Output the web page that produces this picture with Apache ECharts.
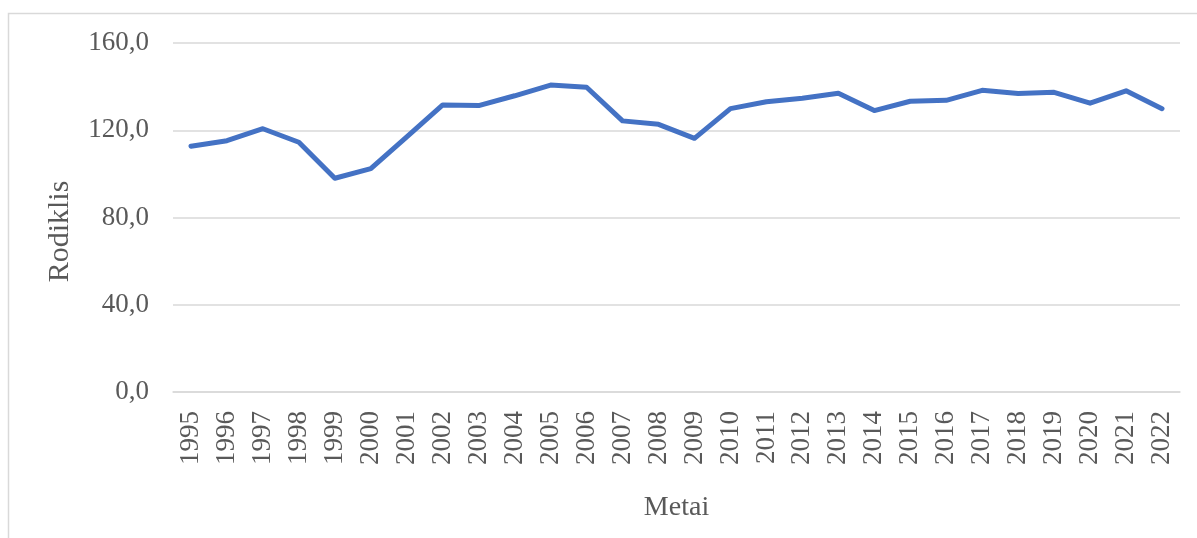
<!DOCTYPE html>
<html>
<head>
<meta charset="utf-8">
<script src="https://cdn.jsdelivr.net/npm/echarts@6/dist/echarts.min.js"></script>
<style>
  html, body { margin: 0; padding: 0; background: #ffffff; }
  #chart { width: 1197px; height: 538px; }
</style>
</head>
<body>
<div id="chart"></div>
<script>
// Years on the category axis
const years = ['1995','1996','1997','1998','1999','2000','2001','2002','2003','2004',
  '2005','2006','2007','2008','2009','2010','2011','2012','2013','2014',
  '2015','2016','2017','2018','2019','2020','2021','2022'];

// Indicator values per year
const rodiklis = [112.7, 115.2, 120.7, 114.5, 98.0, 102.4, 117.0, 131.6, 131.3, 135.8,
  140.7, 139.7, 124.3, 122.7, 116.3, 129.9, 133.1, 134.7, 137.0, 129.0,
  133.3, 133.7, 138.3, 136.9, 137.4, 132.4, 138.1, 129.9];

// Value axis range and step
const yMin = 0, yMax = 160, yStep = 40;

const textColor = '#595959';
const serif = '"Liberation Serif", "Times New Roman", serif';

const chart = echarts.init(document.getElementById('chart'), null, { renderer: 'canvas' });

chart.setOption({
  animation: false,
  backgroundColor: '#ffffff',
  graphic: [{
    type: 'rect',
    shape: { x: 8.5, y: 13.5, width: 1200, height: 600 },
    style: { fill: 'none', stroke: '#d9d9d9', lineWidth: 1.5 },
    silent: true
  }],
  grid: { left: 173, right: 17, top: 43, bottom: 146, containLabel: false },
  xAxis: {
    type: 'category',
    data: years,
    boundaryGap: true,
    axisLine: { show: true, lineStyle: { color: '#d9d9d9', width: 1.5 } },
    axisTick: { show: false },
    axisLabel: {
      rotate: 90,
      margin: 19,
      color: textColor,
      fontFamily: serif,
      fontSize: 27,
      interval: 0
    },
    name: 'Metai',
    nameLocation: 'middle',
    nameGap: 102,
    nameTextStyle: { color: textColor, fontFamily: serif, fontSize: 28 }
  },
  yAxis: {
    type: 'value',
    min: yMin,
    max: yMax,
    interval: yStep,
    axisLine: { show: false },
    axisTick: { show: false },
    splitLine: { lineStyle: { color: '#d9d9d9', width: 1.5 } },
    axisLabel: {
      margin: 24,
      color: textColor,
      fontFamily: serif,
      fontSize: 27,
      formatter: v => v.toFixed(1).replace('.', ',')
    },
    name: 'Rodiklis',
    nameLocation: 'middle',
    nameGap: 98,
    nameTextStyle: { color: textColor, fontFamily: serif, fontSize: 30, padding: [0, 0, 0, -28] }
  },
  series: [{
    type: 'line',
    data: rodiklis,
    symbol: 'none',
    smooth: false,
    lineStyle: { color: '#4472c4', width: 5, cap: 'round', join: 'round' },
    itemStyle: { color: '#4472c4' }
  }]
});
</script>
</body>
</html>
